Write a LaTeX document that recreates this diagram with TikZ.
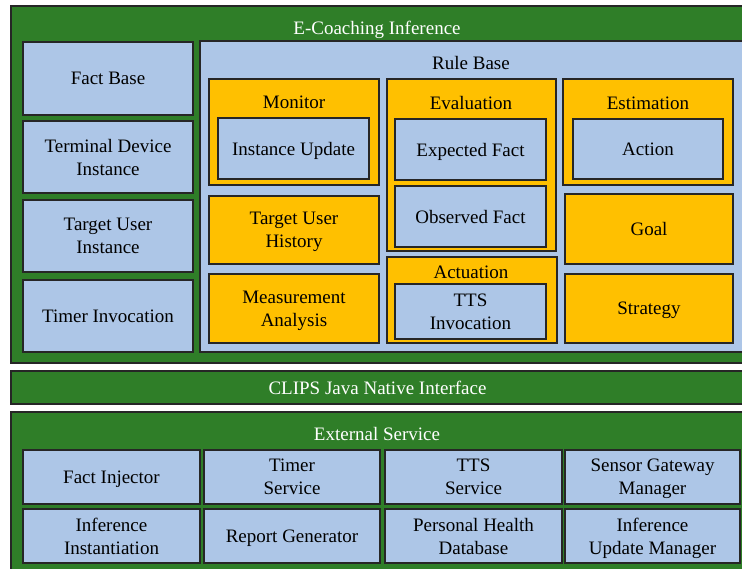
\documentclass[tikz,border=0pt]{standalone}
\usepackage{fontspec}
\setmainfont{Liberation Serif}
\newfontfamily\ecfont{Liberation Serif}
\usepackage{xcolor}
\definecolor{ecgreen}{RGB}{47,126,40}
\definecolor{ecblue}{RGB}{173,198,231}
\definecolor{ecyellow}{RGB}{255,192,0}

\begin{document}
\begin{tikzpicture}[x=1pt,y=-1pt]
\tikzset{every node/.style={font=\ecfont\fontsize{19}{23}\selectfont,align=center,inner sep=0pt,text depth=0pt}}
\tikzset{sz/.style 2 args={minimum width=#1pt,minimum height=#2pt}}
\tikzset{twoline/.style={text depth=-4pt}}
\tikzset{layer/.style={draw=black!85,line width=1.4pt,fill=ecgreen}}
\tikzset{part/.style={draw=black!85,line width=1.4pt,fill=ecblue}}
\tikzset{rule/.style={draw=black!85,line width=1.4pt,fill=ecyellow}}
\tikzset{caption/.style={text=white}}

\useasboundingbox (0,0) rectangle (742,568);

% inference engine
\node[layer,sz={733}{357}] (ecoach) at (377.5,184.5) {};
\node[caption] (ecoachtitle) at (377,28) {E-Coaching Inference};

\node[part,sz={170}{73}] (factbase) at (108,78.5) {Fact Base};
\node[part,sz={170}{72},twoline] (termdev) at (108,157) {Terminal Device\\Instance};
\node[part,sz={170}{72},twoline] (targetinst) at (108,236) {Target User\\Instance};
\node[part,sz={170}{72}] (timerinv) at (108,316) {Timer Invocation};

\node[part,sz={544}{311}] (rulebase) at (472,196.5) {};
\node (rulebasetitle) at (471,63) {Rule Base};

\node[rule,sz={170}{106}] (monitor) at (294,132) {};
\node (monitortitle) at (294,102) {Monitor};
\node[part,sz={151}{61}] (instupd) at (293.5,148.5) {Instance Update};

\node[rule,sz={169}{172}] (evaluation) at (471.5,165) {};
\node (evaluationtitle) at (471,103) {Evaluation};
\node[part,sz={151}{61}] (expfact) at (470.5,149.5) {Expected Fact};
\node[part,sz={151}{61}] (obsfact) at (470.5,216.5) {Observed Fact};

\node[rule,sz={170}{106}] (estimation) at (648,132) {};
\node (estimationtitle) at (648,103) {Estimation};
\node[part,sz={150}{60}] (action) at (648,149) {Action};

\node[rule,sz={170}{68},twoline] (tuhist) at (294,230) {Target User\\History};
\node[rule,sz={170}{69},twoline] (measan) at (294,308.5) {Measurement\\Analysis};

\node[rule,sz={170}{86}] (actuation) at (472,300) {};
\node (actuationtitle) at (471,272) {Actuation};
\node[part,sz={151}{55},twoline] (ttsinv) at (470.5,311.5) {TTS\\Invocation};

\node[rule,sz={168}{70}] (goal) at (649,229) {Goal};
\node[rule,sz={168}{69}] (strategy) at (649,308.5) {Strategy};

% native interface
\node[layer,sz={733}{33},caption] (clips) at (377.5,387.5) {CLIPS Java Native Interface};

% external services
\node[layer,sz={733}{163}] (extserv) at (377.5,493.5) {};
\node[caption] (extservtitle) at (377,434) {External Service};

\node[part,sz={177}{54}] (factinj) at (111.5,477) {Fact Injector};
\node[part,sz={176}{54},twoline] (timerserv) at (292,477) {Timer\\Service};
\node[part,sz={177}{54},twoline] (ttsserv) at (473.5,477) {TTS\\Service};
\node[part,sz={175}{54},twoline] (sensorgw) at (652.5,477) {Sensor Gateway\\Manager};

\node[part,sz={177}{54},twoline] (infinst) at (111.5,536) {Inference\\Instantiation};
\node[part,sz={176}{54}] (reportgen) at (292,536) {Report Generator};
\node[part,sz={177}{54},twoline] (phd) at (473.5,536) {Personal Health\\Database};
\node[part,sz={175}{54},twoline] (infupd) at (652.5,536) {Inference\\Update Manager};

\end{tikzpicture}
\end{document}
